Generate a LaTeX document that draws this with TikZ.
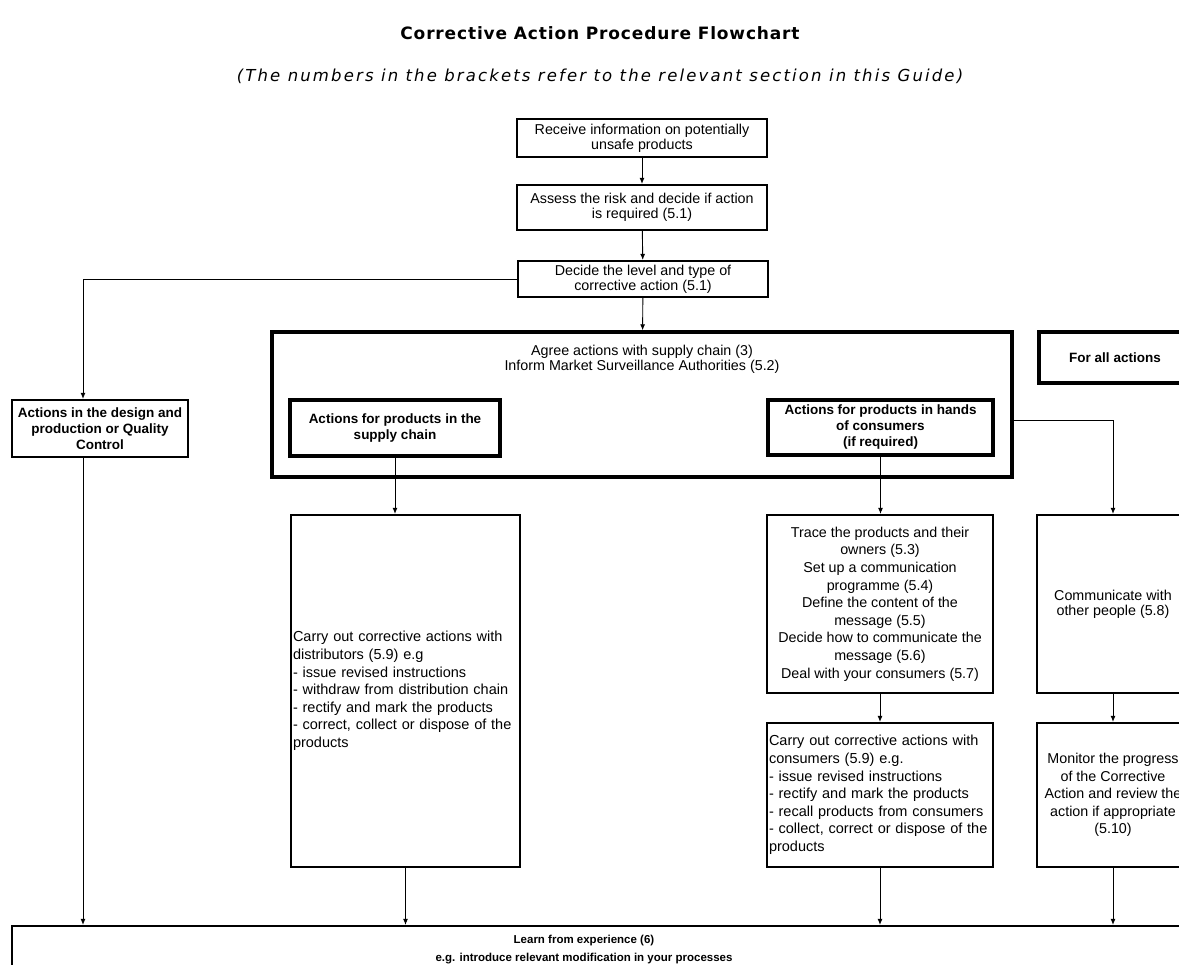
\documentclass[tikz,border=0pt]{standalone}
\usepackage{fontspec}
\setmainfont{Liberation Sans}
\newfontfamily\titlefont[LetterSpace=5]{DejaVu Sans}
\newfontfamily\notefont[LetterSpace=13]{DejaVu Sans}
\usetikzlibrary{arrows.meta,positioning,calc}

\begin{document}
\begin{tikzpicture}[x=1pt,y=-1pt,>={Latex[length=6pt,width=5pt]},
  box/.style={draw,line width=2.2pt,align=center,inner sep=2pt,font=\fontsize{14.3}{15}\selectfont},
  boldbox/.style={box,font=\fontsize{13.5}{16}\selectfont\bfseries},
  heavybox/.style={boldbox,line width=3.4pt},
  listbox/.style={box,align=left,font=\fontsize{14.5}{17.6}\selectfont},
  link/.style={->,line width=0.9pt}]
\useasboundingbox (0,0) rectangle (1179,965);
\clip (0,0) rectangle (1179,965);
\node[font=\titlefont\bfseries\fontsize{17}{18}\selectfont] (title) at (600,33) {Corrective Action Procedure Flowchart};
\node[font=\notefont\itshape\fontsize{16.5}{18}\selectfont] (note) at (600,76) {(The numbers in the brackets refer to the relevant section in this Guide)};
\node[box,minimum width=250,minimum height=38] (receive) at (642,138) {Receive information on potentially\\unsafe products};
\node[box,minimum width=250,minimum height=45] (assess) at (642,207.5) {Assess the risk and decide if action\\is required (5.1)};
\node[box,minimum width=250,minimum height=36] (decide) at (643,279) {Decide the level and type of\\corrective action (5.1)};
\node[heavybox,minimum width=740,minimum height=145] (agree) at (642,404.5) {};
\node[font=\fontsize{14.3}{15}\selectfont,align=center,below=11pt of agree.north] (agreetext) {Agree actions with supply chain (3)\\Inform Market Surveillance Authorities (5.2)};
\node[heavybox,minimum width=210,minimum height=56] (supply) at (395,428) {Actions for products in the\\supply chain};
\node[heavybox,minimum width=225,minimum height=55] (hands) at (880.5,427.5) {Actions for products in hands\\of consumers\\(if required)};
\node[heavybox,minimum width=152,minimum height=51] (forall) at (1115,357.5) {For all actions};
\node[boldbox,minimum width=176,minimum height=57] (design) at (100,428.5) {Actions in the design and\\production or Quality\\Control};
\node[listbox,text width=225,minimum height=352] (carrydist) at (405.5,691) {Carry out corrective actions with\\distributors (5.9) e.g\\- issue revised instructions\\- withdraw from distribution chain\\- rectify and mark the products\\- correct, collect or dispose of the\\products};
\node[box,font=\fontsize{14.3}{17.6}\selectfont,minimum width=226,minimum height=178] (trace) at (880,604) {Trace the products and their\\owners (5.3)\\Set up a communication\\programme (5.4)\\Define the content of the\\message (5.5)\\Decide how to communicate the\\message (5.6)\\Deal with your consumers (5.7)};
\node[listbox,text width=222,minimum height=144] (carrycons) at (880,795) {Carry out corrective actions with\\consumers (5.9) e.g.\\- issue revised instructions\\- rectify and mark the products\\- recall products from consumers\\- collect, correct or dispose of the\\products};
\node[box,minimum width=152,minimum height=178] (comm) at (1113,604) {Communicate with\\other people (5.8)};
\node[box,font=\fontsize{14.3}{17.6}\selectfont,minimum width=152,minimum height=144] (monitor) at (1113,795) {Monitor the progress\\of the Corrective\\Action and review the\\action if appropriate\\(5.10)};
\node[box,minimum width=1188,minimum height=74] (learn) at (606,963) {};
\node[font=\fontsize{11.5}{18}\selectfont\bfseries,align=center,below=7pt of learn.north,xshift=-22pt] (learntext) {Learn from experience (6)\\e.g. introduce relevant modification in your processes};
\draw[link] (receive) -- (assess);
\draw[link] (assess) -- (decide);
\draw[link] (decide) -- (agree);
\draw[link] (decide.west) -| ([xshift=-17pt]design.north);
\draw[link] ([xshift=-17pt]design.south) -- ([xshift=-17pt]design.south |- learn.north);
\draw[link] (supply.south) -- (supply.south |- carrydist.north);
\draw[link] (hands.south) -- (hands.south |- trace.north);
\draw[link] (trace) -- (carrycons);
\draw[link] ([yshift=7.5pt]agree.east |- hands.east) -| (comm.north);
\draw[link] (comm) -- (monitor);
\draw[link] (carrydist.south) -- (carrydist.south |- learn.north);
\draw[link] (carrycons.south) -- (carrycons.south |- learn.north);
\draw[link] (monitor.south) -- (monitor.south |- learn.north);
\end{tikzpicture}
\end{document}
